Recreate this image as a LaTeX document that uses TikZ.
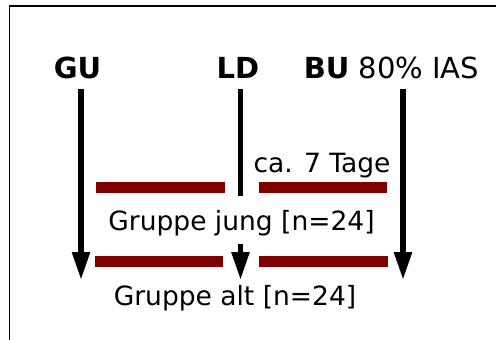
\documentclass[tikz,border=0pt]{standalone}
\usepackage{fontspec}
\setmainfont{DejaVu Sans}
\usetikzlibrary{arrows.meta}
\definecolor{barred}{HTML}{7F0000}
\tikzset{
  hdr/.style={anchor=base, inner sep=0pt, font=\fontsize{29}{33}\selectfont},
  lbl/.style={anchor=base, inner sep=0pt, font=\fontsize{26.5}{30}\selectfont},
  timeline/.style={line width=5.5pt, -{Triangle[length=28pt,width=17pt]}},
  bar/.style={line width=11pt, draw=barred, line cap=butt},
  frame/.style={line width=1.6pt}
}
\begin{document}
\begin{tikzpicture}[x=1pt,y=-1pt]
\useasboundingbox (0,0) rectangle (496,340);
\clip (0,0) rectangle (496,340);
\coordinate (fbl) at (9.5,345);
\coordinate (ftl) at (9.5,6);
\coordinate (ftr) at (500,6);
\draw[frame] (fbl) -- (ftl) -- (ftr);
% headers
\node[hdr] (gu) at (77.5,78) {\textbf{GU}};
\node[hdr] (ld) at (238,78) {\textbf{LD}};
\node[hdr] (bu) at (391.5,78) {\textbf{BU} 80\% IAS};
% timelines
\coordinate (gutop) at (81,89);   \coordinate (gubot) at (81,280);
\coordinate (ldtop) at (240.5,89); \coordinate (ldbot) at (240.5,280);
\coordinate (butop) at (403,89);  \coordinate (bubot) at (403,280);
\draw[timeline] (gutop) -- (gubot);
\draw[timeline] (ldtop) -- (ldbot);
\draw[timeline] (butop) -- (bubot);
% bars
\coordinate (b1a) at (96,187.5);  \coordinate (b1b) at (225,187.5);
\coordinate (b2a) at (259,187.5); \coordinate (b2b) at (387,187.5);
\coordinate (b3a) at (95,261.5);  \coordinate (b3b) at (223,261.5);
\coordinate (b4a) at (259,261.5); \coordinate (b4b) at (388,261.5);
\draw[bar] (b1a) -- (b1b);
\draw[bar] (b2a) -- (b2b);
\draw[bar] (b3a) -- (b3b);
\draw[bar] (b4a) -- (b4b);
% labels
\node[lbl] (tage) at (322,172) {ca. 7 Tage};
\node[lbl, fill=white, text height=34pt, text depth=14pt, inner xsep=2pt] (jung) at (241.5,230) {Gruppe jung [n=24]};
\node[lbl] (alt) at (235,305) {Gruppe alt [n=24]};
\end{tikzpicture}
\end{document}
